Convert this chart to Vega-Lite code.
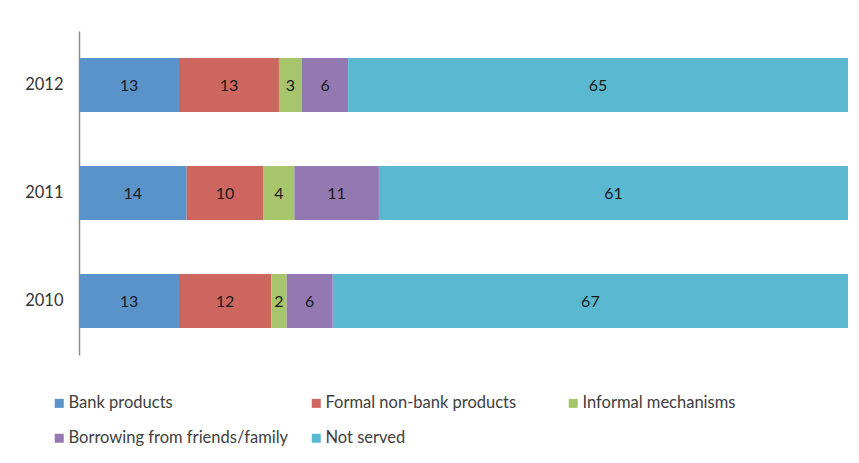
{
  "$schema": "https://vega.github.io/schema/vega-lite/v6.json",
  "width": 769,
  "height": 324,
  "padding": {"top": 31, "left": 0, "right": 11, "bottom": 0},
  "background": "white",
  "config": {
    "view": {"stroke": null},
    "font": "Lato"
  },
  "data": {
    "values": [
      {"year": "2012", "category": "Bank products", "order": 1, "value": 13},
      {"year": "2012", "category": "Formal non-bank products", "order": 2, "value": 13},
      {"year": "2012", "category": "Informal mechanisms", "order": 3, "value": 3},
      {"year": "2012", "category": "Borrowing from friends/family", "order": 4, "value": 6},
      {"year": "2012", "category": "Not served", "order": 5, "value": 65},
      {"year": "2011", "category": "Bank products", "order": 1, "value": 14},
      {"year": "2011", "category": "Formal non-bank products", "order": 2, "value": 10},
      {"year": "2011", "category": "Informal mechanisms", "order": 3, "value": 4},
      {"year": "2011", "category": "Borrowing from friends/family", "order": 4, "value": 11},
      {"year": "2011", "category": "Not served", "order": 5, "value": 61},
      {"year": "2010", "category": "Bank products", "order": 1, "value": 13},
      {"year": "2010", "category": "Formal non-bank products", "order": 2, "value": 12},
      {"year": "2010", "category": "Informal mechanisms", "order": 3, "value": 2},
      {"year": "2010", "category": "Borrowing from friends/family", "order": 4, "value": 6},
      {"year": "2010", "category": "Not served", "order": 5, "value": 67}
    ]
  },
  "transform": [
    {"stack": "value", "groupby": ["year"], "sort": [{"field": "order", "order": "ascending"}], "as": ["v0", "v1"]}
  ],
  "encoding": {
    "y": {
      "field": "year",
      "type": "nominal",
      "sort": "descending",
      "scale": {"paddingInner": 0.5, "paddingOuter": 0.25},
      "axis": {
        "title": null,
        "ticks": false,
        "grid": false,
        "domainColor": "#8c8c8c",
        "domainWidth": 1.5,
        "labelPadding": 16,
        "labelFontSize": 16.5,
        "labelColor": "#333333",
        "minExtent": 79,
        "maxExtent": 79
      }
    }
  },
  "layer": [
    {
      "mark": {"type": "bar"},
      "encoding": {
        "x": {
          "field": "v0",
          "type": "quantitative",
          "scale": {"domain": [0, 100], "nice": false},
          "axis": null
        },
        "x2": {"field": "v1"},
        "color": {
          "field": "category",
          "type": "nominal",
          "scale": {
            "domain": ["Bank products", "Formal non-bank products", "Informal mechanisms", "Borrowing from friends/family", "Not served"],
            "range": ["#5a93ca", "#ce6660", "#a7c56b", "#9478b2", "#5ab8d0"]
          },
          "legend": {
            "title": null,
            "orient": "none",
            "legendX": -28,
            "legendY": 364,
            "direction": "horizontal",
            "columns": 3,
            "gridAlign": "all",
            "columnPadding": 19,
            "rowPadding": 18,
            "symbolType": "square",
            "symbolSize": 81,
            "symbolStrokeWidth": 0,
            "symbolOffset": 0,
            "labelOffset": 1,
            "labelFontSize": 16.5,
            "labelColor": "#404040",
            "labelLimit": 400
          }
        }
      }
    },
    {
      "transform": [
        {"fold": ["v0", "v1"], "as": ["edge", "pos"]}
      ],
      "mark": {"type": "text", "fontSize": 16, "color": "#1a1a1a", "baseline": "middle", "align": "center", "dy": 1},
      "encoding": {
        "x": {
          "field": "pos",
          "aggregate": "mean",
          "type": "quantitative",
          "scale": {"domain": [0, 100], "nice": false},
          "axis": null
        },
        "detail": {"field": "category", "type": "nominal"},
        "text": {"field": "value", "aggregate": "max", "type": "quantitative"}
      }
    }
  ]
}
